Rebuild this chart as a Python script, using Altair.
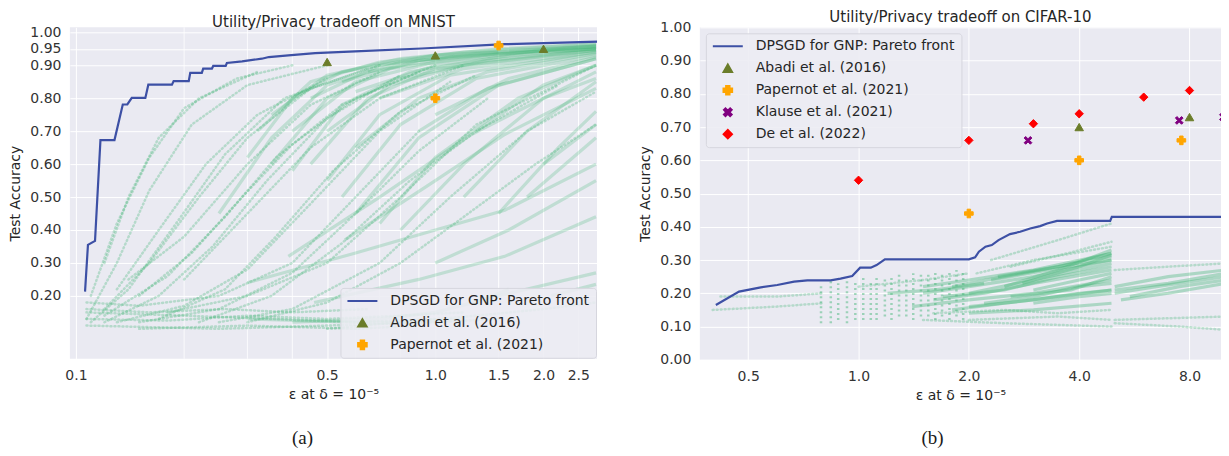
import altair as alt
import pandas as pd

# ---------------- shared labels ----------------
SERIES = ["DPSGD for GNP: Pareto front", "Abadi et al. (2016)", "Papernot et al. (2021)",
          "Klause et al. (2021)", "De et al. (2022)"]
CAPTIONS = ["(a)", "(b)"]
TITLES = ["Utility/Privacy tradeoff on MNIST", "Utility/Privacy tradeoff on CIFAR-10"]
X_TITLE = "ε at δ = 10⁻⁵"
Y_TITLE = "Test Accuracy"

# ---------------- (a) MNIST ----------------
A_X_TICKS = [0.1, 0.5, 1.0, 1.5, 2.0, 2.5]
A_X_MINOR = [0.2, 0.3, 0.4, 0.6, 0.7, 0.8, 0.9]
A_Y_TICKS = [0.2, 0.3, 0.4, 0.5, 0.6, 0.7, 0.8, 0.9, 0.95, 1.0]
A_FRONT_EPS = [0.106, 0.108, 0.113, 0.117, 0.128, 0.135, 0.139, 0.143, 0.156, 0.159, 0.185,
               0.187, 0.206, 0.208, 0.224, 0.226, 0.239, 0.241, 0.261, 0.263, 0.290, 0.329,
               0.344, 0.390, 0.463, 0.598, 0.916, 1.56, 2.85]
A_FRONT_ACC = [0.213, 0.355, 0.367, 0.673, 0.673, 0.781, 0.781, 0.801, 0.801, 0.841, 0.841,
               0.852, 0.852, 0.877, 0.877, 0.890, 0.890, 0.898, 0.898, 0.907, 0.912, 0.920,
               0.925, 0.930, 0.937, 0.942, 0.951, 0.964, 0.972]
A_ABADI_EPS = [0.5, 1.0, 2.0]
A_ABADI_ACC = [0.91, 0.93, 0.95]
A_PAPERNOT_EPS = [1.0, 1.5]
A_PAPERNOT_ACC = [0.80, 0.96]
# individual training runs (eps, acc)
A_RUNS_FAINT = [
    [(0.107, 0.13), (0.13, 0.30), (0.16, 0.52), (0.21, 0.72), (0.30, 0.84), (0.50, 0.90)],
    [(0.11, 0.12), (0.14, 0.22), (0.19, 0.42), (0.26, 0.63), (0.38, 0.80), (0.65, 0.89)],
    [(0.12, 0.12), (0.17, 0.20), (0.24, 0.35), (0.34, 0.55), (0.50, 0.74), (0.80, 0.87)],
    [(0.13, 0.12), (0.20, 0.17), (0.30, 0.28), (0.45, 0.48), (0.70, 0.70), (1.10, 0.85)],
    [(0.15, 0.12), (0.25, 0.16), (0.40, 0.27), (0.60, 0.45), (0.90, 0.64), (1.40, 0.80)],
    [(0.11, 0.20), (0.13, 0.42), (0.16, 0.62), (0.20, 0.77), (0.28, 0.86), (0.40, 0.90)],
    [(0.12, 0.16), (0.16, 0.30), (0.22, 0.50), (0.30, 0.68), (0.45, 0.83), (0.70, 0.90)],
    [(0.107, 0.15), (0.20, 0.14), (0.35, 0.13), (0.60, 0.12), (1.00, 0.13)],
    [(0.107, 0.11), (0.25, 0.10), (0.50, 0.11), (1.00, 0.12), (1.50, 0.13)],
    [(0.107, 0.18), (0.15, 0.17), (0.25, 0.20), (0.40, 0.30), (0.60, 0.50), (0.90, 0.70)],
    [(0.14, 0.25), (0.20, 0.38), (0.30, 0.60), (0.45, 0.78), (0.70, 0.88)],
    [(0.18, 0.15), (0.30, 0.20), (0.50, 0.30), (0.80, 0.50), (1.30, 0.72), (2.80, 0.90)],
    [(0.20, 0.25), (0.30, 0.45), (0.45, 0.65), (0.70, 0.80), (1.20, 0.90)],
    [(0.25, 0.12), (0.40, 0.16), (0.70, 0.30), (1.10, 0.50), (1.80, 0.70), (2.80, 0.82)],
    [(0.50, 0.10), (0.80, 0.12), (1.30, 0.14), (2.00, 0.16), (2.80, 0.18)],
    [(0.12, 0.30), (0.14, 0.50), (0.17, 0.68), (0.22, 0.80), (0.32, 0.88)],
    [(0.13, 0.22), (0.17, 0.40), (0.23, 0.60), (0.32, 0.75), (0.50, 0.86)],
    [(0.15, 0.20), (0.21, 0.33), (0.29, 0.50), (0.40, 0.66), (0.60, 0.80), (1.00, 0.90)],
    [(0.17, 0.13), (0.26, 0.22), (0.36, 0.38), (0.52, 0.58), (0.80, 0.76), (1.30, 0.87)],
    [(0.22, 0.12), (0.35, 0.20), (0.55, 0.36), (0.85, 0.55), (1.30, 0.70), (2.20, 0.84)],
    [(0.30, 0.12), (0.50, 0.18), (0.80, 0.30), (1.20, 0.44), (1.90, 0.60), (2.80, 0.72)],
    [(0.12, 0.14), (0.18, 0.26), (0.26, 0.44), (0.36, 0.62), (0.55, 0.78), (0.90, 0.88)],
    [(0.107, 0.13), (0.18, 0.125), (0.30, 0.14), (0.50, 0.13), (0.80, 0.14), (1.20, 0.15)],
    [(0.107, 0.16), (0.16, 0.15), (0.26, 0.16), (0.40, 0.15), (0.65, 0.16)],
    [(0.15, 0.10), (0.30, 0.11), (0.60, 0.10), (0.90, 0.11)],
]
A_RUNS_DENSE = [
    [(0.30, 0.62), (0.40, 0.80), (0.55, 0.88), (1.00, 0.93), (2.80, 0.96)],
    [(0.35, 0.60), (0.50, 0.80), (0.75, 0.89), (1.50, 0.935), (2.80, 0.955)],
    [(0.40, 0.58), (0.55, 0.78), (0.85, 0.88), (1.60, 0.93), (2.80, 0.95)],
    [(0.45, 0.60), (0.65, 0.80), (1.00, 0.89), (2.80, 0.945)],
    [(0.50, 0.55), (0.70, 0.75), (1.10, 0.87), (2.80, 0.94)],
    [(0.55, 0.50), (0.80, 0.72), (1.30, 0.86), (2.80, 0.93)],
    [(0.60, 0.45), (0.90, 0.68), (1.50, 0.84), (2.80, 0.92)],
    [(0.70, 0.42), (1.00, 0.62), (1.70, 0.80), (2.80, 0.90)],
    [(0.80, 0.40), (1.20, 0.60), (2.00, 0.80), (2.80, 0.88)],
    [(0.39, 0.32), (0.70, 0.50), (1.26, 0.69), (2.00, 0.80), (2.80, 0.86)],
    [(0.56, 0.37), (1.00, 0.55), (1.56, 0.69), (2.80, 0.83)],
    [(0.30, 0.24), (0.60, 0.33), (1.00, 0.40), (1.56, 0.46), (2.80, 0.60)],
    [(0.46, 0.18), (0.90, 0.25), (1.56, 0.32), (2.80, 0.44)],
    [(0.40, 0.12), (0.70, 0.13), (1.00, 0.15), (1.50, 0.20), (2.80, 0.27)],
    [(0.30, 0.13), (0.60, 0.12), (0.90, 0.12), (1.20, 0.13)],
    [(0.25, 0.45), (0.35, 0.68), (0.50, 0.84), (0.80, 0.91), (1.50, 0.94)],
    [(1.20, 0.50), (1.80, 0.70), (2.80, 0.85)],
    [(1.50, 0.45), (2.20, 0.65), (2.80, 0.76)],
    [(1.30, 0.18), (1.60, 0.22)],
    [(2.10, 0.20), (2.80, 0.235)],
    [(0.32, 0.70), (0.45, 0.85), (0.70, 0.91), (1.20, 0.94), (2.80, 0.965)],
    [(0.60, 0.82), (1.00, 0.90), (2.00, 0.94), (2.80, 0.95)],
    [(0.70, 0.80), (1.20, 0.89), (2.80, 0.94)],
    [(0.35, 0.75), (0.50, 0.87), (0.80, 0.92), (1.50, 0.95), (2.80, 0.965)],
    [(0.40, 0.70), (0.60, 0.85), (1.00, 0.91), (2.00, 0.945), (2.80, 0.955)],
    [(0.50, 0.70), (0.75, 0.84), (1.20, 0.90), (2.80, 0.95)],
    [(0.60, 0.65), (0.90, 0.80), (1.40, 0.88), (2.80, 0.935)],
    [(0.90, 0.70), (1.40, 0.83), (2.80, 0.92)],
    [(1.00, 0.75), (1.60, 0.86), (2.80, 0.925)],
    [(1.30, 0.70), (2.00, 0.84), (2.80, 0.90)],
    [(0.45, 0.80), (0.70, 0.90), (1.30, 0.935), (2.80, 0.958)],
    [(0.55, 0.85), (0.90, 0.915), (1.80, 0.94), (2.80, 0.95)],
    [(2.00, 0.60), (2.80, 0.72)],
    [(1.80, 0.50), (2.80, 0.68)],
    [(1.00, 0.30), (1.60, 0.40), (2.80, 0.55)],
    [(0.65, 0.88), (1.10, 0.925), (2.20, 0.95), (2.80, 0.958)],
    [(0.80, 0.86), (1.40, 0.915), (2.80, 0.945)],
]

# ---------------- (b) CIFAR-10 ----------------
B_X_TICKS = [0.5, 1.0, 2.0, 4.0, 8.0]
B_Y_TICKS = [0.0, 0.1, 0.2, 0.3, 0.4, 0.5, 0.6, 0.7, 0.8, 0.9, 1.0]
B_FRONT_EPS = [0.408, 0.472, 0.541, 0.600, 0.667, 0.725, 0.839, 0.893, 0.961, 1.01, 1.08,
               1.12, 1.18, 2.00, 2.08, 2.13, 2.22, 2.31, 2.41, 2.59, 2.76, 2.94, 3.13, 3.27,
               3.48, 4.86, 4.91, 10.0]
B_FRONT_ACC = [0.165, 0.205, 0.218, 0.225, 0.235, 0.239, 0.239, 0.244, 0.252, 0.277, 0.277,
               0.285, 0.302, 0.302, 0.308, 0.325, 0.340, 0.345, 0.360, 0.378, 0.385, 0.395,
               0.402, 0.410, 0.418, 0.418, 0.430, 0.430]
B_ABADI_EPS = [4.0, 8.0]
B_ABADI_ACC = [0.70, 0.73]
B_PAPERNOT_EPS = [2.0, 4.0, 7.6]
B_PAPERNOT_ACC = [0.44, 0.60, 0.66]
B_KLAUSE_EPS = [2.9, 7.5, 9.9]
B_KLAUSE_ACC = [0.66, 0.72, 0.73]
B_DE_EPS = [1.0, 2.0, 3.0, 4.0, 6.0, 8.0]
B_DE_ACC = [0.54, 0.66, 0.71, 0.74, 0.79, 0.81]
# checkpoint columns of the early runs
B_COL_EPS = [0.79, 0.84, 0.88, 0.93, 0.98, 1.03, 1.08, 1.12, 1.18, 1.23, 1.29, 1.35, 1.41,
             1.48, 1.55, 1.62, 1.69, 1.77, 1.85, 1.93]
B_COL_LO = [0.11, 0.11, 0.12, 0.11, 0.12, 0.12, 0.12, 0.12, 0.13, 0.12, 0.13, 0.13, 0.12,
            0.13, 0.13, 0.12, 0.13, 0.12, 0.13, 0.12]
B_COL_HI = [0.23, 0.24, 0.23, 0.24, 0.24, 0.25, 0.24, 0.25, 0.25, 0.25, 0.26, 0.25, 0.26,
            0.26, 0.26, 0.27, 0.26, 0.27, 0.27, 0.27]
B_RUNS_DENSE = [
    [(1.5, 0.20), (2.0, 0.22), (3.0, 0.25), (4.9, 0.30)],
    [(1.5, 0.22), (2.0, 0.24), (3.0, 0.27), (4.9, 0.32)],
    [(1.6, 0.18), (2.2, 0.20), (3.0, 0.23), (4.9, 0.27)],
    [(1.4, 0.16), (2.0, 0.18), (3.0, 0.20), (4.9, 0.24)],
    [(1.8, 0.15), (2.5, 0.17), (3.5, 0.19), (4.9, 0.21)],
    [(2.0, 0.20), (3.0, 0.24), (4.0, 0.27), (4.9, 0.29)],
    [(2.2, 0.17), (3.0, 0.19), (4.0, 0.22), (4.9, 0.23)],
    [(2.0, 0.14), (3.0, 0.15), (4.9, 0.17)],
    [(2.5, 0.22), (3.5, 0.27), (4.9, 0.33)],
    [(1.2, 0.20), (1.6, 0.21), (2.2, 0.23)],
    [(2.4, 0.25), (3.5, 0.28), (4.9, 0.31)],
    [(2.6, 0.19), (3.8, 0.21), (4.9, 0.25)],
    [(1.8, 0.22), (2.5, 0.25), (3.5, 0.28), (4.9, 0.32)],
    [(1.7, 0.19), (2.5, 0.21), (3.5, 0.25), (4.9, 0.28)],
    [(2.0, 0.16), (3.0, 0.18), (4.0, 0.20), (4.9, 0.21)],
    [(2.3, 0.24), (3.3, 0.27), (4.9, 0.30)],
    [(3.0, 0.17), (4.0, 0.19), (4.9, 0.20)],
    [(3.0, 0.21), (4.0, 0.24), (4.9, 0.26)],
    [(2.8, 0.23), (4.0, 0.28), (4.9, 0.315)],
    [(5.0, 0.20), (6.5, 0.22), (10.0, 0.25)],
    [(5.0, 0.22), (7.0, 0.25), (10.0, 0.27)],
    [(5.2, 0.18), (7.0, 0.20), (10.0, 0.23)],
    [(5.0, 0.21), (7.0, 0.23), (10.0, 0.26)],
    [(5.5, 0.19), (7.5, 0.22), (10.0, 0.24)],
]
B_RUNS_FAINT = [
    [(2.3, 0.30), (3.5, 0.36), (4.9, 0.41)],
    [(2.6, 0.28), (3.7, 0.32), (4.9, 0.355)],
    [(1.0, 0.22), (1.5, 0.24), (2.0, 0.26)],
    [(5.0, 0.27), (7.0, 0.28), (10.0, 0.29)],
    [(5.0, 0.12), (7.0, 0.125), (10.0, 0.13)],
    [(5.0, 0.11), (7.5, 0.10), (10.0, 0.09)],
    [(0.40, 0.15), (0.60, 0.16), (0.80, 0.17)],
    [(0.42, 0.19), (0.60, 0.19), (0.80, 0.20)],
    [(1.5, 0.12), (2.5, 0.11), (4.9, 0.10)],
    [(2.0, 0.12), (3.5, 0.13), (4.9, 0.12)],
    [(1.6, 0.14), (2.5, 0.15), (3.5, 0.14), (4.9, 0.15)],
    [(2.1, 0.26), (3.0, 0.30), (4.9, 0.34)],
]

# ---------------- styles ----------------
COLORS = ["#3d50a5", "#6b7d2a", "#ffa500", "#800080", "#ff0000"]
X_PATH = "M-1,-0.6L-0.6,-1L0,-0.4L0.6,-1L1,-0.6L0.4,0L1,0.6L0.6,1L0,0.4L-0.6,1L-1,0.6L-0.4,0Z"
SHAPES = ["stroke", "triangle-up", "cross", X_PATH, "diamond"]
SIZES = [900, 72, 75, 60, 70]
GREEN = "#3cb371"
FONT = "DejaVu Sans"


def runs_frame(runs):
    rows = []
    for k, run in enumerate(runs):
        for i, (e, a) in enumerate(run):
            rows.append({"run": k, "i": i, "eps": e, "acc": a})
    return pd.DataFrame(rows)


def points_frame(groups):
    rows = []
    for name, eps, acc in groups:
        for e, a in zip(eps, acc):
            rows.append({"series": name, "eps": e, "acc": a})
    return pd.DataFrame(rows)


def panel(n_series, title, caption, xdom, ydom, xticks, yticks, front_eps, front_acc,
          marker_groups, faint, dense, width, height, legend_orient, legend_offset,
          dense_opacity, minor=None, columns=None):
    names = SERIES[:n_series]
    X = alt.X("eps:Q", scale=alt.Scale(type="log", domain=xdom, nice=False),
              axis=alt.Axis(values=xticks, format=".1f", title=X_TITLE, labelFlush=False,
                            labelOverlap=False))
    Y = alt.Y("acc:Q", scale=alt.Scale(domain=ydom, nice=False, zero=False),
              axis=alt.Axis(values=yticks, format=".2f", title=Y_TITLE, labelOverlap=False))
    leg = alt.Legend(title=None, orient=legend_orient, offset=legend_offset,
                     fillColor="rgba(236,236,243,0.88)", strokeColor="#d6d6de",
                     padding=6, cornerRadius=3, labelFont=FONT, labelFontSize=14,
                     labelColor="#262626", labelLimit=400, symbolStrokeWidth=2,
                     clipHeight=14, rowPadding=8, labelOffset=12, symbolOffset=0)
    sc = alt.Scale(domain=names, range=COLORS[:n_series])
    layers = []
    if minor:
        layers.append(alt.Chart(pd.DataFrame({"eps": minor})).mark_rule(
            color="white", strokeWidth=0.8).encode(x=X))
    if columns:
        ce, lo, hi = columns
        layers.append(alt.Chart(pd.DataFrame({"eps": ce, "acc": lo, "acc2": hi})).mark_rule(
            color=GREEN, strokeWidth=2.5, strokeDash=[2, 3], opacity=0.45, clip=True
        ).encode(x=X, y=Y, y2="acc2:Q"))
    layers.append(alt.Chart(runs_frame(faint)).mark_line(
        color=GREEN, strokeWidth=2.5, strokeDash=[1, 3], strokeCap="round", opacity=0.3,
        clip=True).encode(x=X, y=Y, detail="run:N", order="i:Q"))
    layers.append(alt.Chart(runs_frame(dense)).mark_line(
        color=GREEN, strokeWidth=3.2, opacity=dense_opacity, clip=True
    ).encode(x=X, y=Y, detail="run:N", order="i:Q"))
    front = pd.DataFrame({"eps": front_eps, "acc": front_acc, "series": SERIES[0],
                          "i": list(range(len(front_eps)))})
    layers.append(alt.Chart(front).mark_line(strokeWidth=2.2, clip=True).encode(
        x=X, y=Y, order="i:Q", stroke=alt.Stroke("series:N", scale=sc, legend=leg)))
    layers.append(alt.Chart(points_frame(marker_groups)).mark_point(
        filled=True, opacity=1, strokeWidth=1, clip=True).encode(
        x=X, y=Y,
        fill=alt.Fill("series:N", scale=alt.Scale(domain=names, range=COLORS[:n_series]),
                      legend=leg),
        stroke=alt.Stroke("series:N", scale=sc, legend=leg),
        shape=alt.Shape("series:N", scale=alt.Scale(domain=names, range=SHAPES[:n_series]),
                        legend=leg),
        size=alt.Size("series:N", scale=alt.Scale(type="ordinal", domain=names,
                                                  range=SIZES[:n_series]),
                      legend=leg)))
    layers.append(alt.Chart(pd.DataFrame({"t": [caption]})).mark_text(
        font="Liberation Serif", fontSize=19, color="#1a1a1a", baseline="middle"
    ).encode(text="t:N", x=alt.value(233), y=alt.value(411)))
    return alt.layer(*layers).properties(
        width=width, height=height,
        title=alt.Title(title, frame="group", anchor="middle", font=FONT, fontSize=15,
                        fontWeight="normal", color="#262626", offset=-5))


left = panel(3, TITLES[0], CAPTIONS[0], [0.0962, 2.818], [0.0091, 1.0152], A_X_TICKS, A_Y_TICKS,
             A_FRONT_EPS, A_FRONT_ACC,
             [(SERIES[1], A_ABADI_EPS, A_ABADI_ACC), (SERIES[2], A_PAPERNOT_EPS, A_PAPERNOT_ACC)],
             A_RUNS_FAINT, A_RUNS_DENSE, 528, 332, "bottom-right", 1, 0.24, minor=A_X_MINOR)

right = panel(5, TITLES[1], CAPTIONS[1], [0.369, 9.75], [0.0, 1.0], B_X_TICKS, B_Y_TICKS,
              B_FRONT_EPS, B_FRONT_ACC,
              [(SERIES[1], B_ABADI_EPS, B_ABADI_ACC), (SERIES[2], B_PAPERNOT_EPS, B_PAPERNOT_ACC),
               (SERIES[3], B_KLAUSE_EPS, B_KLAUSE_ACC), (SERIES[4], B_DE_EPS, B_DE_ACC)],
              B_RUNS_FAINT, B_RUNS_DENSE, 522, 333, "top-left", 6, 0.36,
              columns=(B_COL_EPS, B_COL_LO, B_COL_HI))

chart = alt.hconcat(left, right, spacing=41).resolve_scale(
    x="independent", y="independent", stroke="independent", fill="independent",
    shape="independent", size="independent"
).resolve_legend(
    stroke="independent", fill="independent", shape="independent", size="independent"
).properties(
    padding={"left": 0, "top": 2, "right": 0, "bottom": 0}
).configure_view(
    fill="#eaeaf2", strokeWidth=0
).configure_axis(
    grid=True, gridColor="white", gridWidth=1, domain=False, ticks=False, tickSize=0,
    labelFont=FONT, labelFontSize=14, labelColor="#333333", labelPadding=9,
    titleFont=FONT, titleFontSize=14, titleFontWeight="normal", titleColor="#262626"
).configure_axisX(titlePadding=5, labelPadding=10).configure_axisY(titlePadding=7)

chart.save("out.html", embed_options={"renderer": "svg", "actions": False})
